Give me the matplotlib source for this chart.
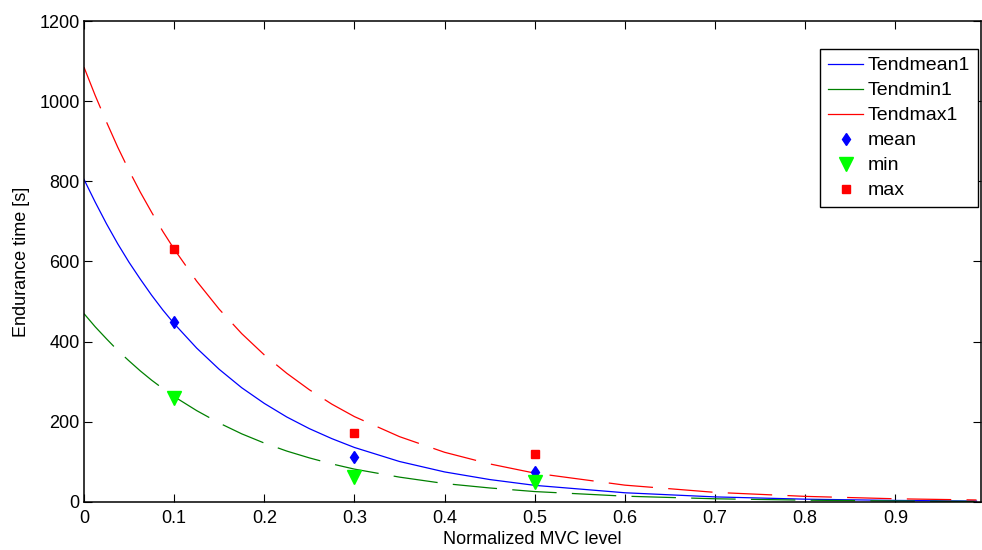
import matplotlib
matplotlib.use("Agg")
import matplotlib.pyplot as plt
from matplotlib.lines import Line2D

plt.rcParams['font.family'] = ['Liberation Sans', 'DejaVu Sans']
plt.rcParams['lines.scale_dashes'] = False

# Fitted trend curves
x_curve = [0, 0.0125, 0.025, 0.0375, 0.05, 0.0625, 0.075, 0.0875, 0.1, 0.125, 0.15,
           0.175, 0.2, 0.225, 0.25, 0.275, 0.3, 0.35, 0.4,
           0.45, 0.5, 0.6, 0.7, 0.8, 0.9, 0.99]
tend_mean = [805, 748, 694, 644, 598, 556, 516, 479, 445, 384, 331,
             285, 246, 212, 183, 158, 136, 101, 75,
             56, 41.5, 23, 12.7, 7, 3.9, 2.3]
tend_min = [470, 437, 407, 378, 352, 327, 304, 283, 263, 228, 197,
            170, 147, 127, 110, 95, 82, 62, 46,
            35, 26, 14.5, 8, 4.5, 2.5, 1.5]
tend_max = [1085, 1014, 948, 885, 827, 773, 723, 675, 631, 551, 481,
            420, 367, 321, 280, 244, 213, 163, 124,
            95, 72, 42, 24, 14, 8, 5]

# Measured points
x_pts = [0.1, 0.3, 0.5]
mean_pts = [448, 113, 76]
min_pts = [259, 62, 49]
max_pts = [630, 171, 119]

xticks = [0, 0.1, 0.2, 0.3, 0.4, 0.5, 0.6, 0.7, 0.8, 0.9]
xticklabels = ['0', '0.1', '0.2', '0.3', '0.4', '0.5', '0.6', '0.7', '0.8', '0.9']
yticks = [0, 200, 400, 600, 800, 1000, 1200]

fig = plt.figure(figsize=(9.82, 5.50), dpi=100)
ax = fig.add_axes([0.0855, 0.0873, 0.9135, 0.8745])

dash = (32, 11)
ax.plot(x_curve, tend_mean, color=(0, 0, 1), lw=0.9, label='Tendmean1')
ax.plot(x_curve, tend_min, color=(0, 0.5, 0), lw=0.9, dashes=dash, label='Tendmin1')
ax.plot(x_curve, tend_max, color=(1, 0, 0), lw=0.9, dashes=dash, label='Tendmax1')
ax.plot(x_pts, mean_pts, 'd', color=(0, 0, 1), ms=6, ls='none', label='mean')
ax.plot(x_pts, min_pts, 'v', color=(0, 1, 0), ms=10, ls='none', label='min')
ax.plot(x_pts, max_pts, 's', color=(1, 0, 0), ms=6, ls='none', label='max')

ax.set_xlim(0, 0.995)
ax.set_ylim(0, 1200)
ax.set_xticks(xticks)
ax.set_xticklabels(xticklabels)
ax.set_yticks(yticks)
ax.tick_params(direction='in', length=5.5, width=0.8, top=True, right=True,
               labelsize=13)
ax.tick_params(axis='x', pad=6)
ax.tick_params(axis='y', pad=3)
for s in ax.spines.values():
    s.set_linewidth(1.1)

ax.set_xlabel('Normalized MVC level', fontsize=13, labelpad=3)
ax.set_ylabel('Endurance time [s]', fontsize=13, labelpad=7)

handles = [
    Line2D([], [], color=(0, 0, 1), lw=0.9),
    Line2D([], [], color=(0, 0.5, 0), lw=0.9),
    Line2D([], [], color=(1, 0, 0), lw=0.9),
    Line2D([], [], marker='d', color=(0, 0, 1), ms=6, ls='none'),
    Line2D([], [], marker='v', color=(0, 1, 0), ms=10, ls='none'),
    Line2D([], [], marker='s', color=(1, 0, 0), ms=6, ls='none'),
]
labels = ['Tendmean1', 'Tendmin1', 'Tendmax1', 'mean', 'min', 'max']
leg = ax.legend(handles, labels, loc='upper right', bbox_to_anchor=(0.9967, 0.9418),
                fontsize=14, frameon=True, fancybox=False, framealpha=1,
                edgecolor='black', borderaxespad=0, handlelength=1.8,
                handletextpad=0.25, labelspacing=0.38, borderpad=0.4)
leg.get_frame().set_linewidth(1.0)

fig.savefig('out.png', dpi=100)
